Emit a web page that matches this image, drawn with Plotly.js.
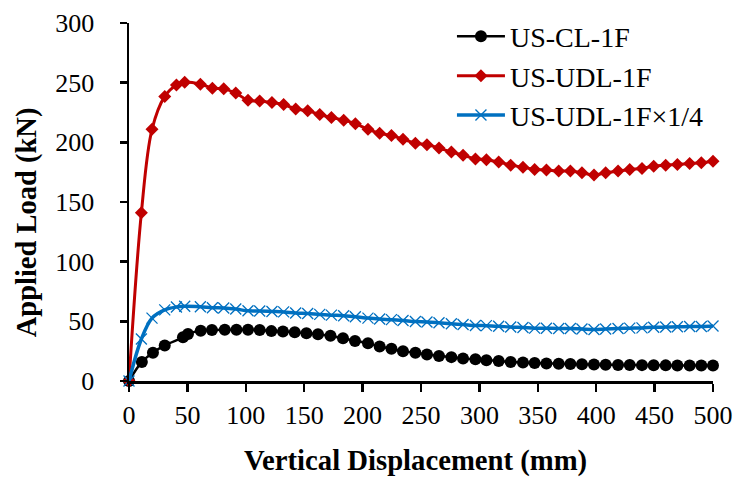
<!DOCTYPE html>
<html>
<head>
<meta charset="utf-8">
<script src="https://cdn.plot.ly/plotly-3.0.1.min.js"></script>
<style>html,body{margin:0;padding:0;background:#fff;}#chart{width:735px;height:477px;}</style>
</head>
<body>
<div id="chart"></div>
<script>
// Series names
const seriesNames = ["US-CL-1F", "US-UDL-1F", "US-UDL-1F\u00d71/4"];
const xTitle = "Vertical Displacement (mm)";
const yTitle = "Applied Load (kN)";

// US-CL-1F
const clX = [0, 11, 20.5, 30.6, 46.2, 50.5, 61.4, 71, 82, 92, 101.9, 111.9, 121.9, 131.8, 141.9, 151.9, 161.8, 172.5, 183.2, 193.5, 204.6,
  214.6, 224.7, 234.6, 245.2, 255.1, 265.4, 276, 286, 296.6, 306, 316.5, 326.8, 337.3, 347.3, 357.4, 367.9, 377.9, 387.8, 398.1,
  408.1, 418.7, 428.7, 439.2, 449.2, 459.5, 469.5, 480, 490, 500];
const clY = [0, 16, 23.7, 29.8, 36.6, 39.4, 42.2, 42.8, 43, 43, 43, 42.8, 41.8, 41.4, 40.8, 40, 39.2, 38, 35.8, 33.6, 31.7,
  29, 27, 25, 23.7, 22.3, 21, 20, 18.8, 18.2, 17.4, 16.8, 16, 15.5, 15, 14.7, 14.5, 14.2, 14, 13.8,
  13.6, 13.5, 13.4, 13.3, 13.2, 13.1, 13, 13, 12.9, 13];

// US-UDL-1F
const udlX = [0, 10.6, 19.7, 30.6, 40.6, 47.7, 61.1, 71.4, 81.1, 91.4, 101.9, 111.9, 122.4, 132.4, 142.7, 153, 163.3, 173.3, 183.8, 193.8,
  204.6, 214.6, 224.7, 234.6, 245.2, 255.1, 265.4, 276, 286, 296.6, 306, 316.5, 326.8, 337.3, 347.3, 357.4, 367.9, 377.9, 387.8, 398.1,
  408.1, 418.7, 428.7, 439.2, 449.2, 459.5, 469.5, 480, 490, 500];
const udlY = [0, 140.9, 210.9, 238.5, 248.1, 250.4, 248.7, 245.4, 244.8, 241.3, 235.2, 234.7, 233.3, 231.6, 228, 226.4, 223.3, 220.8, 218.6, 215.6,
  210.9, 207.6, 205.7, 202.6, 199.3, 197.9, 195.2, 191.9, 189.2, 186.1, 185.5, 183.6, 180.9, 179.2, 177.3, 176.8, 175.9, 175.9, 174.5, 172.6,
  174.5, 175.9, 177.3, 178.1, 180, 180.9, 181.4, 182.2, 182.8, 184.2];

// US-UDL-1F x 1/4
const quarterX = [0, 10.6, 19.7, 30.6, 40.6, 47.7, 61.1, 71.4, 81.1, 91.4, 101.9, 111.9, 122.4, 132.4, 142.7, 153, 163.3, 173.3, 183.8, 193.8,
  204.6, 214.6, 224.7, 234.6, 245.2, 255.1, 265.4, 276, 286, 296.6, 306, 316.5, 326.8, 337.3, 347.3, 357.4, 367.9, 377.9, 387.8, 398.1,
  408.1, 418.7, 428.7, 439.2, 449.2, 459.5, 469.5, 480, 490, 500];
const quarterY = [0, 35.2, 52.7, 59.6, 62, 62.6, 62.2, 61.4, 61.2, 60.3, 58.8, 58.7, 58.3, 57.9, 57, 56.6, 55.8, 55.2, 54.7, 53.9,
  52.7, 51.9, 51.4, 50.7, 49.8, 49.5, 48.8, 48, 47.3, 46.5, 46.4, 45.9, 45.2, 44.8, 44.3, 44.2, 44, 44, 43.6, 43.2,
  43.6, 44, 44.3, 44.5, 45, 45.2, 45.4, 45.6, 45.7, 46.1];

// Axis ticks
const xTicks = [0, 50, 100, 150, 200, 250, 300, 350, 400, 450, 500];
const yTicks = [0, 50, 100, 150, 200, 250, 300];

const FONT = "'Liberation Serif', 'Times New Roman', serif";

const traces = [
  {x: clX, y: clY, name: seriesNames[0], legendgroup: 'a', type: 'scatter', mode: 'lines+markers', cliponaxis: false,
   line: {color: '#000000', width: 2.5, shape: 'spline'},
   marker: {symbol: 'circle', size: 12, color: '#000000'}},
  {x: udlX, y: udlY, name: seriesNames[1], legendgroup: 'b', type: 'scatter', mode: 'lines+markers', cliponaxis: false,
   line: {color: '#C00000', width: 3, shape: 'spline'},
   marker: {symbol: 'diamond', size: 10, color: '#C00000'}},
  {x: quarterX, y: quarterY, name: seriesNames[2], legendgroup: 'c', type: 'scatter', mode: 'lines+markers', cliponaxis: false,
   line: {color: '#0070C0', width: 3.5, shape: 'spline'},
   marker: {symbol: 'x-thin-open', size: 11, color: '#0070C0', line: {color: '#2F85D0', width: 1.3}}}
];

const layout = {
  width: 735, height: 477,
  margin: {l: 129.3, r: 21.7, t: 18.3, b: 96},
  paper_bgcolor: '#ffffff', plot_bgcolor: '#ffffff',
  font: {family: FONT, size: 26, color: '#000000'},
  showlegend: true,
  legend: {x: 0.553, xanchor: 'left', y: 1.032, yanchor: 'top', bgcolor: 'rgba(0,0,0,0)',
           font: {family: FONT, size: 28, color: '#000'}, itemwidth: 48, tracegroupgap: 0},
  xaxis: {range: [0, 500], tickvals: xTicks, ticktext: xTicks.map(String), showgrid: false, zeroline: false,
          showline: true, linecolor: '#000', linewidth: 2.5, ticks: 'outside', ticklen: 8, tickwidth: 2.5, tickcolor: '#000',
          tickfont: {family: FONT, size: 26}, ticklabelstandoff: 1},
  yaxis: {range: [0, 300], tickvals: yTicks, ticktext: yTicks.map(String), showgrid: false, zeroline: false,
          showline: true, linecolor: '#000', linewidth: 2.5, ticks: 'outside', ticklen: 7, tickwidth: 2.5, tickcolor: '#000',
          tickfont: {family: FONT, size: 26}, ticklabelstandoff: 20},
  annotations: [
    {text: '<b>' + xTitle + '</b>', xref: 'paper', yref: 'paper', x: 0.4906, y: -0.2233,
     xanchor: 'center', yanchor: 'middle', showarrow: false, font: {family: FONT, size: 28.7, color: '#000'}},
    {text: '<b>' + yTitle + '</b>', xref: 'paper', yref: 'paper', x: -0.1743, y: 0.444, textangle: -90,
     xanchor: 'center', yanchor: 'middle', showarrow: false, font: {family: FONT, size: 28.5, color: '#000'}}
  ]
};

Plotly.newPlot('chart', traces, layout, {staticPlot: true, displayModeBar: false});
</script>
</body>
</html>
